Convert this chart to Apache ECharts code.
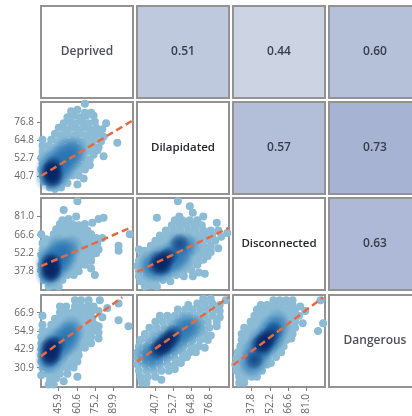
<!DOCTYPE html>
<html><head><meta charset="utf-8">
<style>html,body{margin:0;padding:0;background:#fff}#c{width:412px;height:416px;filter:blur(0.7px)}</style>
<script src="https://cdn.jsdelivr.net/npm/echarts@6/dist/echarts.min.js"></script>
</head><body><div id="c"></div>
<script>
const names = ['Deprived','Dilapidated','Disconnected','Dangerous'];
const ticksDeprived = [45.9,60.6,75.2,89.9];
const ticksDilapidated = [40.7,52.7,64.8,76.8];
const ticksDisconnected = [37.8,52.2,66.6,81.0];
const ticksDangerous = [30.9,42.9,54.9,66.9];
const corrDepDil = 0.51, corrDepDis = 0.44, corrDepDan = 0.60, corrDilDis = 0.57, corrDilDan = 0.73, corrDisDan = 0.63;

const depDilOuter = [[39,33],[43,32],[48,33],[34,37],[38,37],[43,36],[48,37],[53,36],[61,35],[33,41],[37,41],[42,40],[47,41],[52,40],[57,41],[62,41],[66,39],[32,45],[37,45],[42,44],[47,45],[52,44],[57,45],[62,44],[67,45],[71,48],[33,49],[38,49],[43,48],[48,49],[53,48],[58,49],[63,48],[68,49],[32,53],[36,53],[41,52],[46,53],[51,52],[56,53],[61,52],[66,53],[71,52],[74,55],[82,54],[33,57],[38,57],[43,56],[48,57],[53,56],[58,57],[63,56],[68,57],[73,57],[77,58],[33,61],[38,61],[43,60],[48,61],[53,60],[58,61],[63,60],[68,61],[73,61],[78,60],[93,63],[33,65],[40,65],[45,64],[50,65],[55,64],[60,65],[65,64],[70,65],[75,65],[80,64],[43,69],[48,68],[53,69],[58,68],[63,69],[68,68],[73,69],[78,69],[82,67],[46,73],[51,72],[56,73],[61,72],[66,73],[71,72],[76,73],[81,72],[50,76],[55,77],[60,76],[65,77],[70,76],[75,77],[84,76],[53,80],[58,81],[63,80],[68,81],[74,81],[56,84],[61,85],[67,83],[72,83],[67,89]];
const depDilMid = [[36,38],[40,38],[44,38],[36,42],[40,42],[44,42],[48,42],[36,46],[40,46],[44,46],[48,46],[52,46],[38,50],[42,50],[46,50],[50,50],[54,50],[58,52],[44,54],[48,54],[52,54],[56,56],[60,56],[50,58],[54,60],[60,60]];
const depDilCore = [[39,40],[41,42],[43,44],[41,46],[38,44],[43,40],[41,38],[40,44],[42,48]];

const depDisOuter = [[38,26],[42,27],[46,26],[34,31],[39,31],[44,30],[49,31],[33,35],[38,35],[43,34],[48,35],[53,35],[58,35],[75,35],[32,39],[37,39],[42,38],[47,39],[52,38],[57,39],[62,38],[72,40],[32,43],[37,43],[42,42],[47,43],[52,42],[57,43],[62,42],[67,43],[33,47],[38,47],[43,46],[48,47],[53,46],[58,47],[63,46],[68,47],[72,46],[32,51],[37,51],[42,50],[47,51],[52,50],[57,51],[62,50],[67,51],[72,50],[76,52],[33,55],[38,55],[43,54],[48,55],[53,54],[58,55],[63,54],[68,55],[73,54],[78,55],[94,58],[94,54],[33,60],[38,59],[43,58],[48,59],[53,58],[58,59],[63,58],[68,59],[73,58],[77,60],[36,63],[41,63],[46,62],[51,63],[56,62],[61,63],[66,62],[71,63],[76,64],[81,64],[32,67],[42,67],[47,66],[52,67],[57,66],[62,67],[67,66],[72,67],[103,67],[44,71],[49,70],[54,71],[59,70],[64,71],[69,70],[47,75],[52,74],[57,75],[62,74],[67,75],[73,76],[49,78],[54,79],[60,81],[78,79],[82,80],[50,86],[61,93]];
const depDisMid = [[36,34],[40,34],[36,38],[40,38],[44,38],[36,42],[40,42],[44,42],[48,42],[36,46],[40,46],[44,46],[48,46],[52,46],[38,50],[42,50],[46,50],[50,50],[54,52],[44,54],[48,54],[52,56],[46,58],[56,58]];
const depDisCore = [[38,40],[40,42],[42,44],[38,44],[40,46],[42,40],[40,38],[38,36],[41,36]];

const dilDisOuter = [[34,26],[38,27],[42,26],[31,30],[36,30],[41,30],[46,31],[51,30],[30,34],[35,34],[40,34],[45,34],[50,34],[55,35],[60,34],[66,34],[74,36],[30,38],[35,38],[40,38],[45,38],[50,38],[55,38],[60,38],[65,39],[70,37],[29,42],[34,42],[39,42],[44,42],[49,42],[54,42],[59,42],[64,42],[69,43],[30,46],[35,46],[40,46],[45,46],[50,46],[55,46],[60,46],[65,46],[70,46],[73,47],[32,50],[37,50],[42,50],[47,50],[52,50],[57,50],[62,50],[67,50],[72,50],[76,50],[30,55],[34,54],[39,54],[44,54],[49,54],[54,54],[59,54],[64,54],[69,54],[74,54],[78,53],[83,56],[38,58],[43,58],[48,58],[53,58],[58,58],[63,58],[68,58],[73,58],[78,58],[41,62],[46,62],[51,62],[56,62],[61,62],[66,62],[71,62],[76,63],[81,62],[44,66],[49,66],[54,66],[59,66],[64,66],[69,66],[74,66],[79,66],[85,65],[89,68],[48,70],[53,70],[58,70],[63,70],[68,70],[73,70],[78,70],[83,70],[52,74],[57,74],[62,74],[67,74],[72,74],[82,76],[54,78],[59,78],[64,78],[69,78],[42,80],[57,81],[73,81],[66,84],[64,89],[56,93]];
const dilDisMid = [[38,38],[42,38],[46,38],[36,42],[40,42],[44,42],[48,42],[52,42],[38,46],[42,46],[46,46],[50,46],[54,46],[58,46],[44,50],[48,50],[52,50],[56,50],[60,52],[52,54],[56,56],[60,56],[56,60],[60,60],[64,58]];
const dilDisCore = [[44,44],[46,46],[48,48],[43,47],[47,43],[50,50],[42,42],[45,41],[57,60]];

const depDanOuter = [[38,20],[42,20],[39,23],[44,24],[50,22],[32,26],[37,27],[42,27],[47,27],[53,27],[61,25],[33,31],[38,31],[43,31],[48,31],[53,31],[58,31],[32,35],[37,35],[42,35],[47,35],[52,35],[57,35],[61,35],[32,39],[37,39],[42,39],[47,39],[52,39],[57,39],[62,39],[32,43],[37,43],[42,43],[47,43],[52,43],[57,43],[62,43],[67,44],[32,47],[37,47],[42,47],[47,47],[52,47],[57,47],[62,47],[67,47],[72,47],[32,51],[37,51],[42,51],[47,51],[52,51],[57,51],[62,51],[67,51],[72,51],[78,50],[33,55],[38,55],[43,55],[48,55],[53,55],[58,55],[63,55],[68,55],[73,55],[78,54],[33,59],[40,59],[45,59],[50,59],[55,59],[60,59],[65,59],[70,59],[75,59],[78,58],[102,58],[33,65],[43,63],[48,63],[53,63],[58,63],[63,63],[68,63],[73,63],[94,62],[81,64],[47,67],[52,67],[57,67],[62,67],[67,67],[72,67],[78,68],[47,71],[52,71],[59,71],[64,71],[69,71],[74,71],[85,70],[59,75],[64,75],[70,75],[79,75],[94,73]];
const depDanMid = [[36,34],[40,34],[36,38],[40,38],[44,38],[36,42],[40,42],[44,42],[48,42],[38,46],[42,46],[46,46],[50,46],[54,46],[44,50],[48,50],[52,50],[56,50],[50,54],[54,54],[58,54],[56,58]];
const depDanCore = [[38,40],[40,42],[42,44],[38,44],[40,46],[44,46],[42,40],[40,38],[38,37]];

const dilDanOuter = [[32,21],[35,21],[31,25],[36,25],[41,25],[45,23],[30,29],[35,29],[40,29],[45,29],[50,29],[54,30],[29,33],[34,33],[39,33],[44,33],[49,33],[54,33],[58,34],[29,37],[34,37],[39,37],[44,37],[49,37],[54,37],[59,37],[62,38],[29,41],[34,41],[39,41],[44,41],[49,41],[54,41],[59,41],[64,41],[68,41],[30,45],[35,45],[40,45],[45,45],[50,45],[55,45],[60,45],[65,45],[70,45],[74,44],[31,49],[36,49],[41,49],[46,49],[51,49],[56,49],[61,49],[66,49],[71,49],[76,49],[34,53],[39,53],[44,53],[49,53],[54,53],[59,53],[64,53],[69,53],[74,53],[78,52],[37,57],[42,57],[47,57],[52,57],[57,57],[62,57],[67,57],[72,57],[77,57],[82,58],[41,61],[46,61],[51,61],[56,61],[61,61],[66,61],[71,61],[76,61],[82,61],[44,65],[49,65],[54,65],[59,65],[64,65],[69,65],[74,65],[79,65],[84,64],[56,69],[61,69],[66,69],[71,69],[76,69],[81,69],[84,68],[63,72],[69,73],[74,73],[79,73],[84,72],[73,76],[78,76],[88,75]];
const dilDanMid = [[36,36],[40,36],[34,40],[38,40],[42,40],[46,40],[40,44],[44,44],[48,44],[52,44],[44,48],[48,48],[52,48],[56,48],[50,52],[54,52],[58,52],[62,52],[56,56],[60,56],[64,56],[60,60],[64,60],[68,58]];
const dilDanCore = [[46,46],[48,48],[50,50],[44,44],[52,50],[46,44],[49,46],[42,42],[53,53]];

const disDanOuter = [[28,21],[32,21],[28,25],[33,25],[38,25],[42,25],[26,29],[31,29],[36,29],[41,29],[46,29],[25,33],[30,33],[35,33],[40,33],[45,33],[50,33],[53,34],[26,37],[31,37],[36,37],[41,37],[46,37],[51,37],[57,38],[27,41],[32,41],[37,41],[42,41],[47,41],[52,41],[57,41],[61,41],[29,45],[34,45],[39,45],[44,45],[49,45],[54,45],[59,45],[63,45],[30,49],[35,49],[40,49],[45,49],[50,49],[55,49],[60,49],[65,49],[69,50],[30,53],[35,53],[40,53],[45,53],[50,53],[55,53],[60,53],[65,53],[70,53],[90,55],[32,57],[37,57],[42,57],[47,57],[52,57],[57,57],[62,57],[67,57],[72,57],[94,60],[37,61],[42,61],[47,61],[52,61],[57,61],[62,61],[67,61],[72,61],[78,60],[40,65],[45,65],[50,65],[55,65],[60,65],[65,65],[70,65],[75,65],[42,69],[47,69],[52,69],[57,69],[62,69],[67,69],[72,69],[80,68],[45,72],[50,72],[55,72],[60,72],[65,72],[70,72],[76,71],[55,75],[60,75],[65,75],[70,75],[92,75]];
const disDanMid = [[36,32],[40,32],[44,36],[36,36],[40,38],[44,40],[38,42],[42,42],[46,42],[50,44],[42,46],[46,46],[50,46],[54,48],[44,50],[48,50],[52,50],[56,50],[50,54],[54,54],[58,54],[52,58],[56,58],[60,58],[58,62]];
const disDanCore = [[46,47],[48,49],[50,51],[44,46],[52,50],[47,44],[49,47],[40,36],[55,55]];

const fitDepDil = [[31.8,40.8],[105.6,78]];
const fitDepDis = [[31.8,42],[105.6,73]];
const fitDilDis = [[28.7,37.5],[90,72]];
const fitDepDan = [[31.8,38.5],[97,77]];
const fitDilDan = [[28.7,35],[90,77]];
const fitDisDan = [[23.2,32.5],[94,77]];

const rangeDeprived = [31.8,105.6], rangeDilapidated = [28.7,90.2], rangeDisconnected = [23.2,95.5], rangeDangerous = [18.3,78.5];
const ranges = [rangeDeprived,rangeDilapidated,rangeDisconnected,rangeDangerous];
const ticks = [ticksDeprived,ticksDilapidated,ticksDisconnected,ticksDangerous];

const colL = [41,137,233,329], rowT = [6,102,198,295], cell = 92;
const font = '"Open Sans", sans-serif';
const grids=[], xAxes=[], yAxes=[], series=[], graphics=[];

function glow(rgb,a){
  return {type:'radial',x:0.5,y:0.5,r:0.5,colorStops:[{offset:0,color:'rgba('+rgb+','+a+')'},{offset:0.55,color:'rgba('+rgb+','+(a*0.6)+')'},{offset:1,color:'rgba('+rgb+',0)'}]};
}
function addGrid(r,c,bg){
  const i = grids.length;
  grids.push({left:colL[c],top:rowT[r],width:cell,height:cell,show:true,outerBoundsMode:'none',containLabel:false,backgroundColor:bg,borderColor:'#939393',borderWidth:2});
  const xShow = r===3 && c<3, yShow = c===0 && r>0;
  xAxes.push({gridIndex:i,type:'value',min:ranges[c][0],max:ranges[c][1],splitLine:{show:false},axisLine:{show:false},
    axisTick:{show:xShow,length:4,customValues:ticks[c],lineStyle:{color:'#808080'}},
    axisLabel:{show:xShow,customValues:ticks[c],rotate:90,color:'#666',fontSize:10,fontFamily:font,margin:7,formatter:v=>v.toFixed(1)}});
  yAxes.push({gridIndex:i,type:'value',min:ranges[r][0],max:ranges[r][1],splitLine:{show:false},axisLine:{show:false},
    axisTick:{show:yShow,length:4,customValues:ticks[r],lineStyle:{color:'#808080'}},
    axisLabel:{show:yShow,customValues:ticks[r],color:'#666',fontSize:10,fontFamily:font,margin:7,formatter:v=>v.toFixed(1)}});
  return i;
}
function addText(r,c,t,weight,fill,size){
  graphics.push({type:'text',x:colL[c]+cell/2,y:rowT[r]+cell/2,z:10,style:{text:t,fontFamily:font,fontSize:size,fontWeight:weight,fill:fill,align:'center',verticalAlign:'middle'}});
}
function addScatter(r,c,outer,mid,core,fit){
  const i = addGrid(r,c,'#ffffff');
  const base = {type:'scatter',xAxisIndex:i,yAxisIndex:i,clip:true,silent:true};
  series.push(Object.assign({},base,{data:outer,symbolSize:8,itemStyle:{color:'#8bbbd5',opacity:1},z:2}));
  series.push(Object.assign({},base,{data:mid,symbolSize:24,itemStyle:{color:glow('34,112,176',0.42),opacity:1},z:3}));
  series.push(Object.assign({},base,{data:core,symbolSize:20,itemStyle:{color:glow('6,36,100',0.55),opacity:1},z:4}));
  series.push({type:'line',xAxisIndex:i,yAxisIndex:i,data:fit,symbol:'none',silent:true,z:5,lineStyle:{color:'#e8693f',width:2.5,type:[7,4]}});
}
function addCorr(r,c,v,bg){ addGrid(r,c,bg); addText(r,c,v.toFixed(2),600,'#3a3d48',12); }
function addName(k){ const strong=k===1||k===2; addGrid(k,k,'#ffffff'); addText(k,k,names[k],600,strong?'#26272e':'#505158',strong?11.5:12); }

names.forEach((n,k)=>addName(k));
addCorr(0,1,corrDepDil,'#bfc9dd');
addCorr(0,2,corrDepDis,'#ccd4e4');
addCorr(0,3,corrDepDan,'#b5c0d9');
addCorr(1,2,corrDilDis,'#b3bfd9');
addCorr(1,3,corrDilDan,'#a6b3d2');
addCorr(2,3,corrDisDan,'#adb9d6');
addScatter(1,0,depDilOuter,depDilMid,depDilCore,fitDepDil);
addScatter(2,0,depDisOuter,depDisMid,depDisCore,fitDepDis);
addScatter(2,1,dilDisOuter,dilDisMid,dilDisCore,fitDilDis);
addScatter(3,0,depDanOuter,depDanMid,depDanCore,fitDepDan);
addScatter(3,1,dilDanOuter,dilDanMid,dilDanCore,fitDilDan);
addScatter(3,2,disDanOuter,disDanMid,disDanCore,fitDisDan);

const chart = echarts.init(document.getElementById('c'),null,{renderer:'canvas'});
chart.setOption({animation:false,backgroundColor:'#ffffff',grid:grids,xAxis:xAxes,yAxis:yAxes,series:series,graphic:graphics});
</script></body></html>
